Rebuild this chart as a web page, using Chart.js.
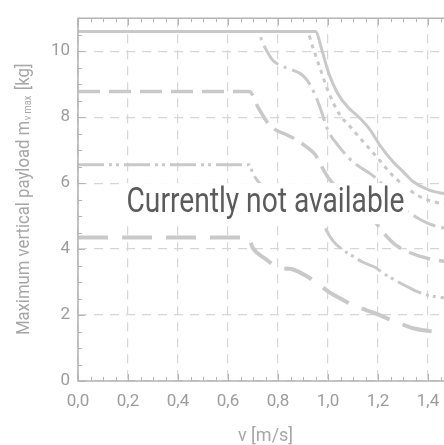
<!DOCTYPE html>
<html>
<head>
<meta charset="utf-8">
<title>Maximum vertical payload</title>
<script src="https://cdn.jsdelivr.net/npm/chart.js"></script>
<style>
  html, body { margin: 0; padding: 0; background: #fff; overflow: hidden; }
  #wrap { width: 444px; height: 445px; overflow: hidden; }
  #chart { display: block; }
</style>
</head>
<body>
<div id="wrap"><canvas id="chart" width="470" height="445"></canvas></div>
<script>
//--------------------------------------
// payload over speed
//--------------------------------------

// tick labels
const x_ticks = [0, 0.2, 0.4, 0.6, 0.8, 1.0, 1.2, 1.4];
const y_ticks = [0, 2, 4, 6, 8, 10];

// solid
const v_solid = [0, 0.95, 0.975, 1.0, 1.04, 1.08, 1.13, 1.17, 1.21, 1.26, 1.3, 1.34, 1.4, 1.45, 1.5];
const m_solid = [10.6, 10.6, 10.05, 9.4, 8.7, 8.3, 7.95, 7.6, 7.12, 6.65, 6.35, 6.05, 5.8, 5.7, 5.66];

// dotted
const v_dot = [0, 0.915, 0.94, 0.965, 1.0, 1.045, 1.09, 1.13, 1.165, 1.2, 1.25, 1.3, 1.36, 1.43, 1.5];
const m_dot = [10.6, 10.6, 10.1, 9.55, 8.8, 8.1, 7.7, 7.35, 7.05, 6.75, 6.3, 5.95, 5.62, 5.42, 5.35];

// dash dot
const v_dashdot = [0, 0.715, 0.745, 0.776, 0.8, 0.85, 0.9, 0.93, 0.965, 1.0, 1.045, 1.085, 1.125, 1.17, 1.2, 1.25, 1.3, 1.35, 1.4, 1.45, 1.5];
const m_dashdot = [10.6, 10.6, 10.15, 9.75, 9.6, 9.45, 9.26, 8.96, 8.36, 7.6, 7.1, 6.75, 6.5, 6.28, 6.1, 5.65, 5.25, 4.98, 4.78, 4.66, 4.6];

// long dash
const v_dash = [0, 0.685, 0.72, 0.76, 0.79, 0.83, 0.87, 0.91, 0.95, 0.975, 1.0, 1.05, 1.1, 1.15, 1.19, 1.23, 1.275, 1.32, 1.36, 1.42, 1.5];
const m_dash = [8.78, 8.78, 8.3, 7.82, 7.62, 7.48, 7.33, 7.12, 6.85, 6.5, 6.18, 5.75, 5.4, 5.08, 4.8, 4.42, 4.1, 3.92, 3.8, 3.68, 3.6];

// dash dot dot
const v_dashdotdot = [0, 0.685, 0.70, 0.74, 0.77, 0.82, 0.9, 0.95, 0.98, 0.995, 1.02, 1.055, 1.1, 1.14, 1.19, 1.22, 1.27, 1.32, 1.36, 1.4, 1.45, 1.5];
const m_dashdotdot = [6.56, 6.56, 6.28, 5.88, 5.65, 5.5, 5.3, 5.1, 4.85, 4.55, 4.25, 4.0, 3.78, 3.6, 3.44, 3.27, 3.05, 2.85, 2.7, 2.6, 2.53, 2.5];

// thick dash
const v_thick = [0, 0.68, 0.70, 0.75, 0.8, 0.83, 0.86, 0.91, 0.96, 1.0, 1.05, 1.1, 1.15, 1.2, 1.25, 1.29, 1.34, 1.4, 1.46, 1.5];
const m_thick = [4.35, 4.35, 4.02, 3.7, 3.45, 3.41, 3.38, 3.2, 2.95, 2.72, 2.5, 2.3, 2.16, 2.02, 1.86, 1.74, 1.6, 1.52, 1.47, 1.46];

const x_title = "v [m/s]";
const y_title = ["Maximum vertical payload m", "v max", " [kg]"];
const overlay_text = "Currently not available";

const line_color = "#c9c9c9";
const grid_color = "#d6d6d6";
const axis_color = "#b4b4b4";
const label_color = "#9c9c9c";
const font_family = "Roboto, 'DejaVu Sans', sans-serif";

function points(vs, ms) {
    return vs.map((v, i) => ({x: v, y: ms[i]}));
}

function curve(label, vs, ms, dash, width) {
    return {
        label: label,
        data: points(vs, ms),
        borderColor: line_color,
        borderWidth: width,
        borderDash: dash,
        pointRadius: 0,
        fill: false,
        cubicInterpolationMode: "monotone"
    };
}

/* frame, inner ticks, axis titles and the "not available" stamp */
const decoration = {
    id: "decoration",
    afterDatasetsDraw(chart) {
        const {ctx, chartArea: a} = chart;
        ctx.save();
        ctx.font = "35px " + font_family;
        const w = ctx.measureText(overlay_text).width;
        const target_w = 278;
        const sx = target_w / w;
        const cx = (a.left + a.right) / 2;
        const base = (a.top + a.bottom) / 2 + 12.5;
        ctx.fillStyle = "#ffffff";
        ctx.fillRect(cx - target_w / 2 - 4, base - 29, target_w + 8, 41);
        ctx.translate(cx, base);
        ctx.scale(sx, 1);
        ctx.fillStyle = "#5b5b5b";
        ctx.textAlign = "center";
        ctx.textBaseline = "alphabetic";
        ctx.fillText(overlay_text, 0, 0);
        ctx.restore();
    },
    afterDraw(chart) {
        const {ctx, chartArea: a, scales: {x, y}} = chart;
        ctx.save();

        // ticks pointing inwards
        ctx.strokeStyle = axis_color;
        ctx.lineWidth = 1;
        ctx.beginPath();
        for (let i = 0; i <= 30; i++) {
            const px = Math.round(x.getPixelForValue(i * 0.05)) + 0.5;
            const len = (i % 4 === 0) ? 7 : 4;
            ctx.moveTo(px, a.bottom); ctx.lineTo(px, a.bottom - len);
            ctx.moveTo(px, a.top);    ctx.lineTo(px, a.top + len);
        }
        for (let i = 0; i <= 22; i++) {
            const py = Math.round(y.getPixelForValue(i * 0.5)) + 0.5;
            const len = (i % 4 === 0) ? 7 : 4;
            ctx.moveTo(a.left, py); ctx.lineTo(a.left + len, py);
        }
        ctx.stroke();

        // frame: left, bottom, top
        ctx.lineWidth = 1.6;
        ctx.beginPath();
        ctx.moveTo(a.right, a.top); ctx.lineTo(a.left, a.top);
        ctx.lineTo(a.left, a.bottom); ctx.lineTo(a.right, a.bottom);
        ctx.stroke();

        // x title
        ctx.fillStyle = "#a6a6a6";
        ctx.font = "18px " + font_family;
        ctx.textAlign = "center";
        ctx.textBaseline = "alphabetic";
        ctx.fillText(x_title, (a.left + a.right) / 2, 441);

        // y title with subscript, rotated
        const big = "18px " + font_family;
        const small = "10px " + font_family;
        ctx.font = big;
        const w0 = ctx.measureText(y_title[0]).width;
        const w2 = ctx.measureText(y_title[2]).width;
        ctx.font = small;
        const w1 = ctx.measureText(y_title[1]).width + 1.5;
        const total = w0 + w1 + w2;
        const target = 271;
        const s = target / total;
        const mid = (a.top + a.bottom) / 2;
        ctx.translate(28.5, mid);
        ctx.rotate(-Math.PI / 2);
        ctx.scale(s, 1);
        ctx.textAlign = "left";
        let pos = -total / 2;
        ctx.font = big;
        ctx.fillText(y_title[0], pos, 0);
        pos += w0 + 0.5;
        ctx.font = small;
        ctx.fillText(y_title[1], pos, 2.5);
        pos += w1;
        ctx.font = big;
        ctx.fillText(y_title[2], pos, 0);
        ctx.restore();
    }
};

const chart_config = {
    type: "line",
    data: {
        datasets: [
            curve("solid", v_solid, m_solid, [], 3),
            curve("dotted", v_dot, m_dot, [4, 5], 3),
            curve("dash dot", v_dashdot, m_dashdot, [24, 6, 3, 6], 3),
            curve("long dash", v_dash, m_dash, [22, 9], 3.5),
            curve("dash dot dot", v_dashdotdot, m_dashdotdot, [26, 5, 3, 4, 3, 5], 3),
            curve("thick dash", v_thick, m_thick, [30, 14], 4)
        ]
    },
    options: {
        responsive: false,
        animation: false,
        devicePixelRatio: 1,
        layout: { padding: { left: 0, top: 12, right: 17, bottom: 0 } },
        plugins: {
            legend: { display: false },
            tooltip: { enabled: false }
        },
        scales: {
            x: {
                type: "linear",
                min: 0,
                max: 1.5,
                afterFit: (scale) => { scale.height = 64; },
                afterBuildTicks: (scale) => { scale.ticks = x_ticks.map(v => ({value: v})); },
                grid: { color: grid_color, lineWidth: 1.2, drawTicks: false },
                border: { display: false, dash: [9, 7] },
                ticks: {
                    color: label_color,
                    font: { family: font_family, size: 17 },
                    padding: 11,
                    maxRotation: 0,
                    callback: (val) => Number(val).toFixed(1).replace(".", ",")
                }
            },
            y: {
                type: "linear",
                min: 0,
                max: 11,
                afterFit: (scale) => { scale.width = 78; },
                afterBuildTicks: (scale) => { scale.ticks = y_ticks.map(v => ({value: v})); },
                grid: { color: grid_color, lineWidth: 1.2, drawTicks: false },
                border: { display: false, dash: [9, 7] },
                ticks: {
                    color: label_color,
                    font: { family: font_family, size: 17 },
                    padding: 8,
                    callback: (val) => String(val)
                }
            }
        }
    },
    plugins: [decoration]
};

new Chart(document.getElementById("chart"), chart_config);
</script>
</body>
</html>
